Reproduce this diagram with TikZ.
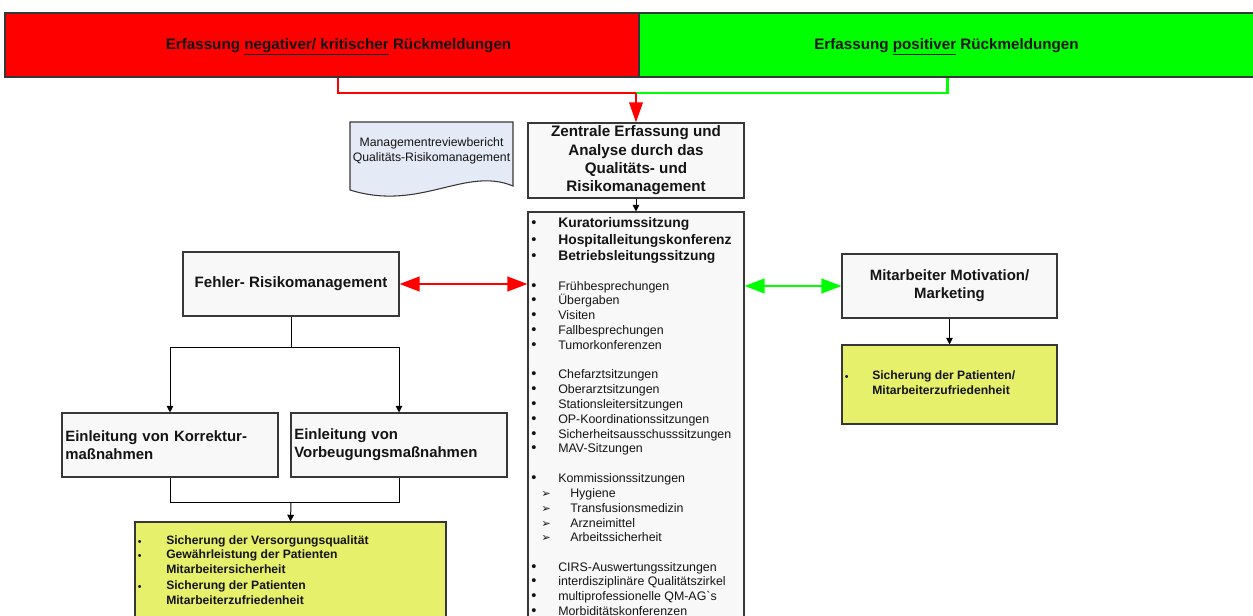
\documentclass[tikz,border=0pt]{standalone}
\usepackage{fontspec}
\setmainfont{Liberation Sans}
\newfontfamily\symbole{DejaVu Sans}
\usetikzlibrary{arrows.meta}

\definecolor{rouge}{RGB}{255,0,0}
\definecolor{vert}{RGB}{0,255,0}
\definecolor{jaune}{RGB}{230,240,106}
\definecolor{bleuclair}{RGB}{228,234,246}
\definecolor{fond}{RGB}{248,248,248}
\definecolor{bord}{RGB}{55,55,55}
\definecolor{texte}{RGB}{20,20,20}

\tikzset{
  boite/.style={draw=bord,line width=0.8pt,fill=fond,inner sep=0pt,text=texte},
  fleche/.style={-{Triangle[length=5pt,width=5pt]},line width=0.75pt},
  trait rouge/.style={draw=rouge,line width=1.8pt},
  trait vert/.style={draw=vert,line width=1.8pt},
  double fleche/.style={{Triangle[length=15pt,width=11pt]}-{Triangle[length=15pt,width=11pt]},line width=1.5pt},
  puce/.style={anchor=base west,inner sep=0pt,text=texte,font=\fontsize{11}{12}\selectfont},
  petite puce/.style={anchor=base west,inner sep=0pt,text=texte,font=\fontsize{8}{9}\selectfont},
  ligne/.style={anchor=base west,inner sep=0pt,text=texte,font=\fontsize{9.3}{11}\selectfont},
  ligne gras/.style={anchor=base west,inner sep=0pt,text=texte,font=\bfseries\fontsize{10.4}{12}\selectfont},
  ligne jaune/.style={anchor=base west,inner sep=0pt,text=texte,font=\bfseries\fontsize{9.1}{10}\selectfont},
  titre/.style={inner sep=0pt,text=texte,font=\bfseries\fontsize{11.4}{13}\selectfont}
}

\begin{document}
\begin{tikzpicture}[x=0.75pt,y=-0.75pt]
\useasboundingbox (0,0) rectangle (1253,616);

% Bandeaux du haut
\node[boite,fill=rouge,minimum width=475.5pt,minimum height=48pt] (negatif) at (322,45) {};
\node[boite,fill=vert,minimum width=462.75pt,minimum height=48pt] (positif) at (947.5,45) {};
\node[titre] (tnegatif) at (338.5,46.5) {Erfassung \underline{negativer/ kritischer} Rückmeldungen};
\node[titre] (tpositif) at (946.5,46.5) {Erfassung \underline{positiver} Rückmeldungen};

% Boîtes centrales
\node[boite,minimum width=162pt,minimum height=56.25pt,align=center,font=\bfseries\fontsize{11.4}{13.7}\selectfont] (zentral) at (636,160.5) {Zentrale Erfassung und\\Analyse durch das\\Qualitäts- und\\Risikomanagement};
\node[boite,minimum width=162pt,minimum height=313.5pt] (liste) at (636,421) {};

% Document (bord ondulé)
\draw[bord,line width=0.8pt,fill=bleuclair] (350,122) -- (513,122) -- (513,186) .. controls (465,166) and (420,212) .. (350,190) -- cycle;
\node[align=center,inner sep=0pt,text=texte,font=\fontsize{9.2}{11.25}\selectfont] (bericht) at (431.5,150.5) {Managementreviewbericht\\Qualitäts-Risikomanagement};

% Gauche
\node[boite,minimum width=162pt,minimum height=48pt,font=\bfseries\fontsize{11.3}{13}\selectfont] (fehler) at (291,284) {Fehler- Risikomanagement};
\node[boite,minimum height=48pt,text width=157pt,inner xsep=2.5pt,align=left,font=\bfseries\fontsize{11.2}{13.5}\selectfont] (korrektur) at (170,445) {Einleitung von Korrektur-\\maßnahmen};
\node[boite,minimum height=48pt,text width=157pt,inner xsep=2.5pt,align=left,font=\bfseries\fontsize{11.2}{13.5}\selectfont] (vorbeugung) at (399,445) {Einleitung von\\Vorbeugungsmaßnahmen};
\node[boite,fill=jaune,minimum width=233.25pt,minimum height=81pt] (ziele) at (290.5,576) {};

% Droite
\node[boite,minimum width=161.25pt,minimum height=48pt,align=center,font=\bfseries\fontsize{11.2}{13.5}\selectfont] (motivation) at (949.5,286) {Mitarbeiter Motivation/\\Marketing};
\node[boite,fill=jaune,minimum width=161.25pt,minimum height=59.25pt] (zufrieden) at (949.5,384.5) {};

% Liste des sitzungen
\foreach \y/\t [count=\i] in {228/Kuratoriumssitzung,245/Hospitalleitungskonferenz,261/Betriebsleitungssitzung}{
  \node[puce] (pg\i) at (531,\y) {\textbullet};
  \node[ligne gras] (lg\i) at (558,\y) {\t};
}
\foreach \y/\t [count=\i] in {291/Frühbesprechungen,305/Übergaben,320/Visiten,335/Fallbesprechungen,350/Tumorkonferenzen,
  379/Chefarztsitzungen,394/Oberarztsitzungen,409/Stationsleitersitzungen,424/OP-Koordinationssitzungen,439/Sicherheitsausschusssitzungen,453/MAV-Sitzungen,
  482/Kommissionssitzungen,571/CIRS-Auswertungssitzungen,585/interdisziplinäre Qualitätszirkel,600/{multiprofessionelle QM-AG\textasciigrave s},615/Morbiditätskonferenzen}{
  \node[puce] (p\i) at (531,\y) {\textbullet};
  \node[ligne] (l\i) at (558,\y) {\t};
}
\foreach \y/\t [count=\i] in {497/Hygiene,512/Transfusionsmedizin,527/Arzneimittel,541/Arbeitssicherheit}{
  \node[puce] (ps\i) at (541,\y) {\symbole\fontsize{8.5}{9}\selectfont ➢};
  \node[ligne] (ls\i) at (570,\y) {\t};
}

% Texte des boîtes jaunes
\foreach \y/\t [count=\i] in {544/Sicherung der Versorgungsqualität,558/Gewährleistung der Patienten/,573/Mitarbeitersicherheit,589/Sicherung der Patienten/,604/Mitarbeiterzufriedenheit}{
  \node[ligne jaune] (z\i) at (166,\y) {\t};
}
\foreach \y [count=\i] in {545,559,590}{
  \node[petite puce] (zp\i) at (137.5,\y) {\textbullet};
}
\node[petite puce] (rp) at (844.5,381) {\textbullet};
\node[ligne jaune] (r1) at (872,380) {Sicherung der Patienten/};
\node[ligne jaune] (r2) at (872,395) {Mitarbeiterzufriedenheit};

% Liaisons colorées
\coordinate (jonction) at (636,93);
\draw[trait vert] (positif.south) |- (jonction);
\draw[trait rouge] ([xshift=12pt]negatif.south) |- (jonction);
\draw[trait rouge,-{Triangle[length=15pt,width=10pt]},rouge] (jonction) -- (zentral.north);
\draw[double fleche,draw=rouge,fill=rouge] (fehler.east) -- (fehler.east -| liste.west);
\draw[double fleche,draw=vert,fill=vert] (motivation.west -| liste.east) -- (motivation.west);

% Liaisons noires
\draw[fleche] (zentral.south) -- (liste.north);
\draw[fleche] (motivation.south) -- (zufrieden.north);
\coordinate (partage) at (291,348);
\coordinate (reunion) at (291,502);
\draw[line width=0.75pt] (fehler.south) -- (partage);
\draw[fleche] (partage) -| (korrektur.north);
\draw[fleche] (partage) -| (vorbeugung.north);
\draw[line width=0.75pt] (korrektur.south) |- (reunion);
\draw[line width=0.75pt] (vorbeugung.south) |- (reunion);
\draw[fleche] (reunion) -- (ziele.north);

\end{tikzpicture}
\end{document}
